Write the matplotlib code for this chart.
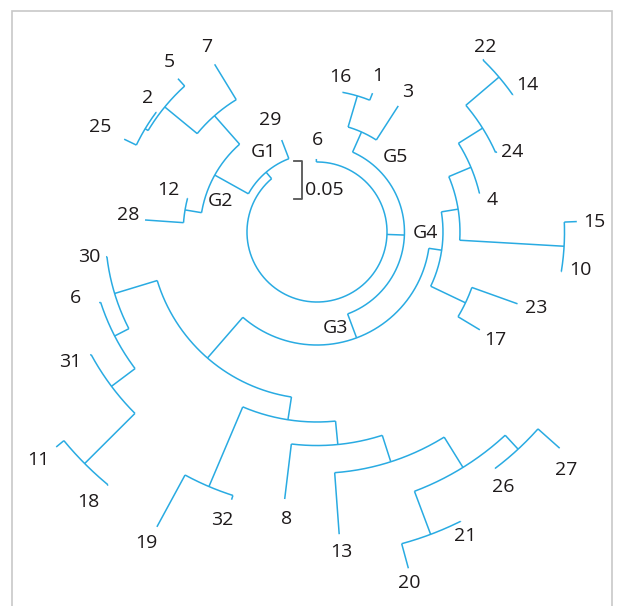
import numpy as np
import matplotlib
matplotlib.use("Agg")
import matplotlib.pyplot as plt
from matplotlib.patches import Rectangle

# ---------------- data: circular tree (branch lengths in distance units) -------------
NODE_ID = ["root", "L6c", "N2", "G5", "L3", "N16_1", "L16", "L1",
           "N3", "G4", "N4a", "N15_10", "L15", "L10", "N4b", "L4", "N4c", "L24",
           "N4d", "L22", "L14", "N23_17", "L23", "L17",
           "N4", "N5", "L30", "N7", "L6l", "N8", "L31", "N9", "L11", "L18",
           "N6", "N10", "L19", "L32", "N11", "L8", "N12", "L13", "N13", "N14",
           "L20", "L21", "N15", "L26", "L27",
           "G1", "L29", "G2", "N12_28", "L12", "L28", "NG2b", "L7", "N5_2_25",
           "L5", "N2_25", "L2", "L25"]

PARENT = [None, "root", "root", "N2", "G5", "G5", "N16_1", "N16_1",
          "N2", "N3", "G4", "N4a", "N15_10", "N15_10", "N4a", "N4b", "N4b", "N4c",
          "N4c", "N4d", "N4d", "G4", "N23_17", "N23_17",
          "N3", "N4", "N5", "N5", "N7", "N7", "N8", "N8", "N9", "N9",
          "N4", "N6", "N10", "N10", "N6", "N11", "N11", "N12", "N12", "N13",
          "N14", "N14", "N13", "N15", "N15",
          "root", "G1", "G1", "G2", "N12_28", "N12_28", "G2", "NG2b", "NG2b",
          "N5_2_25", "N5_2_25", "N2_25", "N2_25"]

RADIUS = [0.0907, 0.0946, 0.1133, 0.1418, 0.1943, 0.1839, 0.1845, 0.1937,
          0.1464, 0.1632, 0.1852, 0.3206, 0.3368, 0.3212, 0.2163, 0.2170, 0.2532, 0.2552,
          0.3096, 0.3109, 0.3100, 0.2131, 0.2759, 0.2461,
          0.2163, 0.2740, 0.2751, 0.2947, 0.2966, 0.3329, 0.3342, 0.4249, 0.4378, 0.4262,
          0.2461, 0.3582, 0.4346, 0.3640, 0.2766, 0.3484, 0.3126, 0.3925, 0.3588, 0.4184,
          0.4514, 0.4189, 0.3834, 0.3840, 0.4210,
          0.1017, 0.1276, 0.1516, 0.1733, 0.1736, 0.2233, 0.2008, 0.2545, 0.2552,
          0.2681, 0.2597, 0.2600, 0.2772]

ANGLE = [0.0, 90.5, -2.0, 66.0, 57.2, 73.5, 79.6, 68.2,
         -69.5, -8.3, 9.2, -3.3, 2.3, -9.2, 22.8, 13.4, 32.1, 24.0,
         40.4, 46.0, 35.0, -25.5, -19.7, -31.0,
         -131.0, -163.1, -173.3, -152.8, -162.0, -143.1, -151.5, -135.1, -140.5, -129.6,
         -98.8, -113.0, -118.5, -107.7, -84.4, -96.9, -72.2, -85.8, -58.2, -69.4,
         -74.8, -63.6, -47.2, -53.0, -41.7,
         -229.6, -249.0, -209.1, -189.5, -194.6, -184.0, -228.6, -238.6, -219.4,
         -227.8, -211.0, -216.7, -205.7]

LEAF_LABEL = {"L6c": "6", "L3": "3", "L16": "16", "L1": "1", "L15": "15", "L10": "10",
              "L4": "4", "L24": "24", "L22": "22", "L14": "14", "L23": "23", "L17": "17",
              "L30": "30", "L6l": "6", "L31": "31", "L11": "11", "L18": "18", "L19": "19",
              "L32": "32", "L8": "8", "L13": "13", "L20": "20", "L21": "21", "L26": "26",
              "L27": "27", "L29": "29", "L12": "12", "L28": "28", "L7": "7", "L5": "5",
              "L2": "2", "L25": "25"}

GROUP_LABEL = {"G1": "G1", "G2": "G2", "N3": "G3", "G4": "G4", "G5": "G5"}

SCALE_LENGTH = 0.05
SCALE_TEXT = "0.05"

# ---------------- layout (label placement, polar: degrees, radius) ----------------
LABEL_POS = {"L7": (120.7, 0.2788), "L5": (131.0, 0.2920), "L2": (141.6, 0.2794),
             "L25": (154.2, 0.3123), "L29": (112.8, 0.1573), "L6c": (89.4, 0.1192),
             "L16": (81.6, 0.2030), "L1": (68.6, 0.2170), "L3": (57.0, 0.2163),
             "L22": (47.8, 0.3237), "L14": (35.0, 0.3320), "L24": (22.3, 0.2730),
             "L4": (10.4, 0.2304), "L15": (2.1, 0.3590), "L10": (-8.2, 0.3442),
             "L23": (-19.1, 0.3003), "L17": (-31.2, 0.2697), "L12": (164.3, 0.2005),
             "L28": (174.9, 0.2458), "L30": (-173.7, 0.2971), "L6l": (-164.7, 0.3237),
             "L31": (-152.2, 0.3615), "L11": (-140.7, 0.4667), "L18": (-130.3, 0.4586),
             "L19": (-118.7, 0.4591), "L32": (-108.3, 0.3929), "L8": (-96.0, 0.3738),
             "L13": (-85.7, 0.4157), "L20": (-75.2, 0.4703), "L21": (-64.0, 0.4380),
             "L26": (-53.9, 0.4088), "L27": (-43.7, 0.4462)}
GROUP_POS = {"G1": (124.0, 0.1250), "G2": (162.1, 0.1307), "N3": (-79.4, 0.1265),
             "G4": (-0.5, 0.1399), "G5": (43.9, 0.1402)}

LINE_COLOR = "#29abe2"
TEXT_COLOR = "#1e1a1b"
FONT = ["Open Sans", "DejaVu Sans"]

W, H = 622, 606
CX, CY = 317, 232          # tree centre in pixels
PX_PER_UNIT = 772.0
RMAX = 0.5

fig = plt.figure(figsize=(W / 100, H / 100), dpi=100)
fig.patch.set_facecolor("white")
side = 2 * RMAX * PX_PER_UNIT
rect = [(CX - side / 2) / W, (H - CY - side / 2) / H, side / W, side / H]
ax = fig.add_axes(rect, projection="polar")
ax.set_ylim(0, RMAX)
ax.axis("off")
ax.patch.set_alpha(0)

idx = {n: i for i, n in enumerate(NODE_ID)}
children = {n: [] for n in NODE_ID}
for n, p in zip(NODE_ID, PARENT):
    if p is not None:
        children[p].append(n)

lw = 1.1
for n in NODE_ID:
    i = idx[n]
    r = RADIUS[i]
    # arc spanning children
    if children[n]:
        angs = [ANGLE[idx[c]] for c in children[n]]
        th = np.deg2rad(np.linspace(min(angs), max(angs), 200))
        ax.plot(th, np.full_like(th, r), color=LINE_COLOR, lw=lw,
                solid_capstyle="butt", clip_on=False)
    # radial branch from parent
    p = PARENT[i]
    if p is not None:
        rp = RADIUS[idx[p]]
        t = np.deg2rad(ANGLE[i])
        ax.plot([t, t], [rp, r], color=LINE_COLOR, lw=lw,
                solid_capstyle="butt", clip_on=False)

for n, lab in LEAF_LABEL.items():
    a, r = LABEL_POS[n]
    ax.text(np.deg2rad(a), r, lab, ha="center", va="center", fontsize=14,
            color=TEXT_COLOR, family=FONT)
for n, lab in GROUP_LABEL.items():
    a, r = GROUP_POS[n]
    ax.text(np.deg2rad(a), r, lab, ha="center", va="center", fontsize=14,
            color=TEXT_COLOR, family=FONT)

# scale bar on a cartesian overlay with the same pixel mapping
ax2 = fig.add_axes(rect)
ax2.set_xlim(-RMAX, RMAX)
ax2.set_ylim(-RMAX, RMAX)
ax2.set_aspect("equal")
ax2.axis("off")
ax2.patch.set_alpha(0)
xb, xt = -0.0198, -0.0294
y1 = 0.0924
y0 = y1 - SCALE_LENGTH
ax2.plot([xt, xb, xb, xt], [y1, y1, y0, y0], color="#555555", lw=1.3)
ax2.text(xb + 0.004, y0 + 0.012, SCALE_TEXT, ha="left", va="center",
         fontsize=14, color=TEXT_COLOR, family=FONT)

# light frame
fig.add_artist(Rectangle((11.5 / W, -0.01), (612 - 11.5) / W, 1 - 10.7 / H + 0.01,
                         transform=fig.transFigure, fill=False,
                         edgecolor="#c8c8c8", lw=1.2))

fig.savefig("out.png", dpi=100)
